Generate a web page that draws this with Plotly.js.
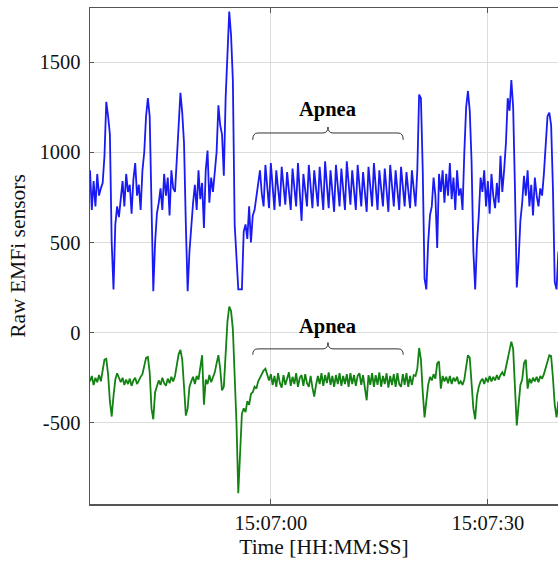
<!DOCTYPE html>
<html>
<head>
<meta charset="utf-8">
<script src="https://cdn.plot.ly/plotly-3.0.1.min.js"></script>
<style>
  html, body { margin: 0; padding: 0; background: #fff; overflow: hidden; }
  #chart { width: 558px; height: 561px; }
</style>
</head>
<body>
<div id="chart"></div>
<script>
// EMFi sensor recording, sampled every 0.25 s starting at 15:06:35
const SAMPLE_PERIOD = 0.25;

// Upper sensor channel (raw counts)
const sensorUpper = [
  900, 680, 840, 700, 880, 760, 800, 830, 980, 1280,
  1200, 1100, 500, 240, 600, 700, 640, 760, 840, 700,
  880, 780, 820, 660, 850, 940, 760, 820, 680, 900,
  1000, 1200, 1300, 1200, 700, 230, 500, 660, 720, 800,
  680, 880, 760, 860, 650, 900, 800, 780, 960, 1150,
  1330, 1220, 1050, 600, 230, 450, 620, 720, 820, 680,
  900, 740, 830, 580, 900, 1010, 720, 860, 780, 900,
  1000, 1260, 1150, 1100, 870, 1300, 1600, 1780, 1650, 1400,
  600, 450, 240, 240, 240, 560, 600, 520, 700, 500,
  650, 680, 760, 840, 900, 770, 700, 930, 790, 690,
  940, 800, 680, 900, 790, 700, 920, 800, 710, 890,
  780, 680, 910, 800, 700, 940, 790, 620, 880, 800,
  700, 930, 790, 690, 900, 810, 700, 920, 790, 680,
  950, 800, 690, 900, 790, 670, 930, 800, 700, 910,
  790, 680, 950, 800, 710, 900, 790, 680, 930, 800,
  700, 890, 790, 670, 920, 800, 700, 940, 790, 680,
  900, 810, 700, 910, 790, 670, 930, 800, 700, 900,
  790, 680, 920, 790, 700, 890, 800, 690, 900, 780,
  700, 900, 1320, 1300, 900, 300, 240, 500, 650, 700,
  860, 760, 470, 880, 780, 900, 720, 880, 760, 940,
  740, 860, 680, 900, 760, 800, 680, 1000, 1250, 1340,
  1230, 950, 450, 240, 500, 650, 860, 780, 900, 700,
  840, 660, 880, 760, 690, 830, 720, 980, 780, 900,
  1050, 1300, 1230, 1400, 1250, 800, 250, 400, 620, 720,
  870, 760, 900, 700, 820, 650, 860, 760, 700, 800,
  760, 880, 1050, 1200, 1220, 1150, 800, 280, 240, 450
];

// Lower sensor channel (raw counts)
const sensorLower = [
  -270, -240, -290, -250, -275, -235, -270, -220, -150, -145,
  -230, -380, -465, -350, -260, -225, -255, -275, -250, -290,
  -260, -285, -255, -295, -265, -250, -285, -260, -245, -230,
  -190, -140, -135, -220, -420, -480, -330, -290, -265, -290,
  -250, -280, -295, -255, -280, -245, -270, -240, -190, -120,
  -95, -150, -300, -460, -420, -300, -270, -245, -285, -240,
  -260, -200, -125, -400, -260, -285, -235, -275, -250, -220,
  -170, -125, -200, -320, -300, -100, 60, 145, 120, 20,
  -200, -500, -890, -620, -450, -420, -440, -380, -400, -340,
  -330, -300, -310, -270, -250, -230, -210, -200, -240, -265,
  -230, -290, -240, -300, -225, -280, -305, -235, -290, -250,
  -220, -295, -245, -285, -225, -300, -250, -235, -295, -230,
  -280, -300, -240, -305, -355, -290, -240, -285, -225, -295,
  -235, -280, -220, -290, -240, -300, -235, -285, -225, -295,
  -240, -285, -230, -300, -225, -285, -235, -295, -240, -225,
  -290, -235, -295, -375, -235, -290, -225, -300, -235, -290,
  -220, -300, -240, -285, -225, -305, -240, -290, -230, -300,
  -225, -285, -300, -230, -290, -225, -300, -240, -290, -235,
  -240, -200, -85, -150, -330, -470, -380, -290, -245, -265,
  -230, -255, -170, -160, -310, -240, -270, -245, -280, -240,
  -285, -250, -270, -245, -285, -270, -290, -260, -190, -125,
  -140, -260, -420, -480, -350, -300, -270, -255, -285, -250,
  -275, -240, -270, -245, -265, -235, -260, -235, -220, -240,
  -190, -140, -100, -50, -90, -300, -515, -400, -290, -260,
  -170, -150, -310, -255, -280, -250, -270, -245, -275, -240,
  -255, -230, -200, -160, -125, -130, -250, -400, -470, -380
];

// Axis ticks
const timeTickVals = [25, 55];
const timeTickText = ['15:07:00', '15:07:30'];
const yTickVals = [-500, 0, 500, 1000, 1500];
const yTickText = ['-500', '0', '500', '1000', '1500'];

// Apnea episode marked on both channels (seconds from start)
const apneaStart = 22.5;
const apneaEnd = 43.3;

const timeAxis = sensorUpper.map((_, i) => i * SAMPLE_PERIOD);

const serif = 'Liberation Serif';

// Curly brace spanning [x0, x1]: ends drop to yEnd, bar at yLine, tip reaches yTip
function bracePath(x0, x1, yEnd, yLine, yTip) {
  const xc = (x0 + x1) / 2;
  const d = 0.7;
  return `M ${x0},${yEnd} Q ${x0},${yLine} ${x0 + d},${yLine} ` +
         `L ${xc - d},${yLine} Q ${xc},${yLine} ${xc},${yTip} ` +
         `Q ${xc},${yLine} ${xc + d},${yLine} ` +
         `L ${x1 - d},${yLine} Q ${x1},${yLine} ${x1},${yEnd}`;
}

const traces = [
  {
    x: timeAxis, y: sensorUpper, type: 'scatter', mode: 'lines',
    line: { color: '#1a1af2', width: 1.8 }, hoverinfo: 'skip'
  },
  {
    x: timeAxis, y: sensorLower, type: 'scatter', mode: 'lines',
    line: { color: '#128212', width: 1.8 }, hoverinfo: 'skip'
  }
];

const apneaMid = (apneaStart + apneaEnd) / 2;

const layout = {
  width: 558, height: 561,
  margin: { l: 90, r: 0, t: 8, b: 57 },
  paper_bgcolor: '#fff', plot_bgcolor: '#fff',
  showlegend: false,
  font: { family: serif, size: 20.5, color: '#111' },
  xaxis: {
    range: [0, 64.7],
    tickvals: timeTickVals, ticktext: timeTickText,
    showgrid: true, gridcolor: '#dcdcdc', gridwidth: 1,
    zeroline: false,
    showline: true, linecolor: '#555', linewidth: 1.5, mirror: 'ticks',
    ticks: 'inside', ticklen: 5, tickcolor: '#555',
    tickfont: { family: serif, size: 20.5, color: '#111' },
    title: { text: 'Time [HH:MM:SS]', font: { family: serif, size: 21.5, color: '#111' }, standoff: 6 }
  },
  yaxis: {
    range: [-950, 1800],
    tickvals: yTickVals, ticktext: yTickText,
    showgrid: true, gridcolor: '#dcdcdc', gridwidth: 1,
    zeroline: false,
    showline: true, linecolor: '#555', linewidth: 1.5,
    ticks: 'inside', ticklen: 4, tickcolor: '#555',
    ticklabelstandoff: 4,
    tickfont: { family: serif, size: 20.5, color: '#111' },
    title: { text: 'Raw EMFi sensors', font: { family: serif, size: 21.5, color: '#111' }, standoff: 8 }
  },
  shapes: [
    {
      type: 'path', xref: 'x', yref: 'y',
      path: bracePath(apneaStart, apneaEnd, 1069, 1107, 1140),
      line: { color: '#333', width: 1 }
    },
    {
      type: 'path', xref: 'x', yref: 'y',
      path: bracePath(apneaStart, apneaEnd, -122, -90, -55),
      line: { color: '#333', width: 1 }
    }
  ],
  annotations: [
    {
      x: apneaMid, y: 1235, xref: 'x', yref: 'y', showarrow: false,
      text: '<b>Apnea</b>', font: { family: serif, size: 20.5, color: '#000' }
    },
    {
      x: apneaMid, y: 35, xref: 'x', yref: 'y', showarrow: false,
      text: '<b>Apnea</b>', font: { family: serif, size: 20.5, color: '#000' }
    }
  ]
};

Plotly.newPlot('chart', traces, layout, { staticPlot: true, displayModeBar: false });
</script>
</body>
</html>
